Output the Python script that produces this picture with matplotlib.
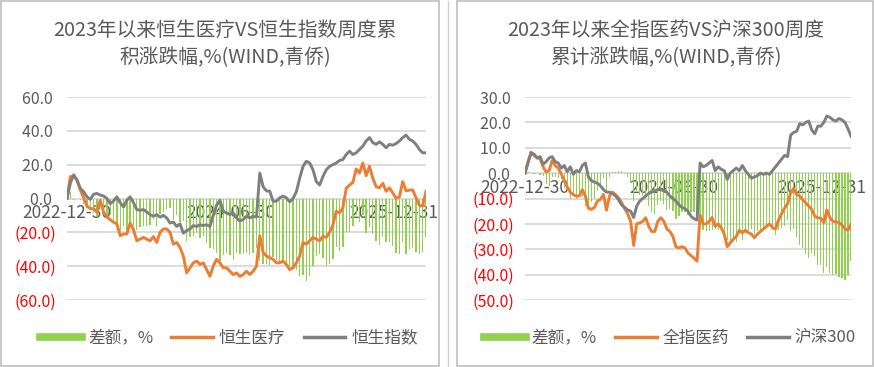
import numpy as np
import pandas as pd
import matplotlib
matplotlib.use("Agg")
import matplotlib.pyplot as plt
from matplotlib.lines import Line2D
from matplotlib.patches import Rectangle

plt.rcParams['font.family'] = ['Noto Sans CJK SC', 'DejaVu Sans']
plt.rcParams['font.weight'] = 'light'

# weekly-ish sample points, 2022-12-30 .. 2026-04
dates = pd.date_range('2022-12-30', '2026-04-17', periods=109)

# left: cumulative return, %
hs_health = [0, 13, 13, 11, 5, 0.5, -4.5, -6, -6, -8,
             -1, -8, -11, -12.5, -14, -15, -22, -21, -21, -14.5,
             -18.5, -25, -24, -23, -24, -25, -22.5, -26, -20, -18,
             -18, -20, -27, -26, -29, -34, -44, -41, -38, -37,
             -39, -38, -42, -46, -40, -36, -38, -41, -41, -43,
             -45, -44, -46, -45, -43, -45, -43, -40, -22, -32,
             -34, -35, -36, -38, -38, -37, -39, -42, -41, -38,
             -34, -26, -27, -25, -23, -24, -25, -22.3, -23, -20,
             -15.5, -7.5, -8.5, -5.5, 6, 8, 9.5, 17.5, 15, 21,
             13.5, 19, 12, 7, 6.3, 9, 4.3, 6.3, 3.3, 0,
             1, 10, 4.5, 5, 5, 0.5, -4, -4.5, 4.3]
hsi = [0, 9, 14, 11, 6, 4, 1, -0.5, 2.5, 3,
       2, 1.5, 0, -3, -1.5, 1, -2.5, -5, -1, 1,
       -2.5, -6.5, -7, -6.5, -8, -9.5, -10.5, -9.5, -11, -10,
       -11.5, -14.5, -14, -16.5, -15, -20.5, -19, -18, -16, -16.5,
       -15.5, -16, -15.5, -16.5, -10, -4, -1, -7.5, -8.5, -9.5,
       -8.5, -11.5, -13.3, -12.4, -10.5, -11.5, -10.5, -11, 15, 7,
       4.5, 4.3, -1.6, -1.6, 0.4, 1.4, 0.4, -2, 0, 4,
       12, 19, 22, 21, 17, 10, 8, 13, 17, 19,
       20, 21, 22.5, 23, 26, 28, 26, 27, 29, 31,
       34, 36, 33, 32, 33.5, 32, 30, 32, 31.5, 32.5,
       34, 36, 37.5, 35, 34, 32, 29, 27, 27]

# right: cumulative return, %
csi_med = [0, 4.5, 8.2, 7, 6, 5.7, 2.5, 0.4, 1, 5,
           3, 2, -0.3, -2.8, -5.5, -7.5, -8.5, -9, -9, -6.5,
           -9, -13.8, -14.3, -13.5, -11, -10.4, -8.4, -14.6, -9, -7.5,
           -8.5, -9.7, -11.7, -14, -16, -19, -28.5, -20, -19.6, -19,
           -17.6, -21, -23, -23, -19, -17.6, -19, -22, -23, -25,
           -29, -29.5, -29, -29.5, -31.5, -32.5, -33.5, -34.7, -16.5, -20,
           -20, -19, -17.5, -21, -20, -21.5, -24, -29, -27.5, -26,
           -25, -22.5, -23.5, -22.5, -23.5, -24, -25.5, -24, -23, -22,
           -21, -20, -21.5, -22, -18.5, -16, -13.8, -12, -7.8, -6,
           -8.5, -9, -10.5, -11.7, -13, -14.3, -17, -17.6, -17.8, -19.5,
           -14.5, -17.5, -19, -19.2, -19.5, -20.5, -22, -22.5, -20.3]
csi300 = [0, 4, 8, 7.5, 6, 6.5, 3.5, 4.5, 6, 6.5,
          4.5, 4, 2, 3, 0.5, 2.5, -0.5, 1, 0.5, 3,
          4, -1.5, -3, -3.5, -4, -5, -6.5, -7.5, -7.5, -8,
          -9, -10.5, -12.5, -13.5, -14.5, -15, -17.5, -13, -11, -10,
          -9, -8, -7.5, -7, -6.5, -6.5, -7, -7.5, -9, -10,
          -11, -12.5, -13.5, -14, -15, -17, -18, -18.5, 4, 2.5,
          3, 4, 5, 1, 2.5, 1.5, 1, -2.5, 0, 1,
          2, 1, 3, 1, -0.5, -2, -1.5, -1, 0, -0.5,
          0, -0.5, 1, 2.5, 4, 5.5, 7, 6.5, 15, 16,
          16.5, 19.5, 19, 20, 20.5, 17, 15.5, 18.5, 18.5, 20,
          22.5, 22, 21, 20.5, 21.5, 21, 20, 17.5, 14.5]

GREEN = '#92D050'
ORANGE = '#ED7D31'
GRAY = '#7F7F7F'
TXT = '#595959'

W, H = 874, 367
fig = plt.figure(figsize=(W / 100, H / 100), dpi=100)


def fx(px):
    return px / W


def fy(py):
    return 1 - py / H


def neg_fmt(v):
    if v < 0:
        return '(%.1f)' % abs(v)
    return '%.1f ' % v


def panel(left, right, ylim, step, s1, s2, names, title, title_x):
    ax = fig.add_axes([fx(left), fy(300), fx(right - left), (300 - 97) / H])
    diff = np.array(s1) - np.array(s2)
    ax.bar(dates, diff, width=4.5, color=GREEN, zorder=2)
    ax.plot(dates, s1, color=ORANGE, lw=2.1, zorder=3)
    ax.plot(dates, s2, color=GRAY, lw=2.1, zorder=4)
    ax.set_xlim(dates[0], dates[-1])
    ax.set_ylim(*ylim)
    yt = np.arange(ylim[0], ylim[1] + 0.1, step)
    ax.set_yticks(yt)
    ax.set_yticklabels([neg_fmt(v) for v in yt], fontsize=11.5)
    for lab, v in zip(ax.get_yticklabels(), yt):
        lab.set_color('#FF0000' if v < 0 else TXT)
    ax.grid(axis='y', color='#D9D9D9', lw=1.3, zorder=0)
    ax.set_axisbelow(True)
    for s in ax.spines.values():
        s.set_visible(False)
    ax.spines['bottom'].set_position(('data', 0))
    ax.set_xticks(pd.to_datetime(['2022-12-30', '2024-06-30', '2025-12-31']))
    ax.set_xticklabels(['2022-12-30', '2024-06-30', '2025-12-31'],
                       fontsize=12.5, color=TXT)
    ax.tick_params(axis='x', length=0, pad=4)
    ax.tick_params(axis='y', length=0, pad=8)
    for lab in ax.get_xticklabels():
        lab.set_zorder(5)

    fig.text(fx(title_x), fy(44), title, ha='center', va='center',
             fontsize=14.2, color=TXT, linespacing=1.4)

    handles = [Line2D([], [], color=GREEN, lw=5.5),
               Line2D([], [], color=ORANGE, lw=2.5),
               Line2D([], [], color=GRAY, lw=2.5)]
    fig.legend(handles, names, loc='center',
               bbox_to_anchor=(fx(title_x + 4), fy(338)), ncol=3,
               frameon=False, fontsize=12, labelcolor=TXT,
               handlelength=2.5, handletextpad=0.35, columnspacing=1.1)
    return ax


panel(67, 426, (-60, 60), 20, hs_health, hsi,
      ['差额，%', '恒生医疗', '恒生指数'],
      '2023年以来恒生医疗VS恒生指数周度累\n积涨跌幅,%(WIND,青侨)', 225)
panel(525, 851, (-50, 30), 10, csi_med, csi300,
      ['差额，%', '全指医药', '沪深300'],
      '2023年以来全指医药VS沪深300周度\n累计涨跌幅,%(WIND,青侨)', 666)

# panel frames
fig.add_artist(Rectangle((fx(1), fy(366)), fx(438), (365) / H,
                         fill=False, edgecolor='#BFBFBF', lw=1.2))
fig.add_artist(Rectangle((fx(457), fy(366)), fx(416), (365) / H,
                         fill=False, edgecolor='#BFBFBF', lw=1.2))
fig.add_artist(Line2D([fx(448), fx(448)], [fy(366), fy(1)],
                      color='#D0D0D0', lw=1.0))

fig.savefig('out.png', dpi=100)
